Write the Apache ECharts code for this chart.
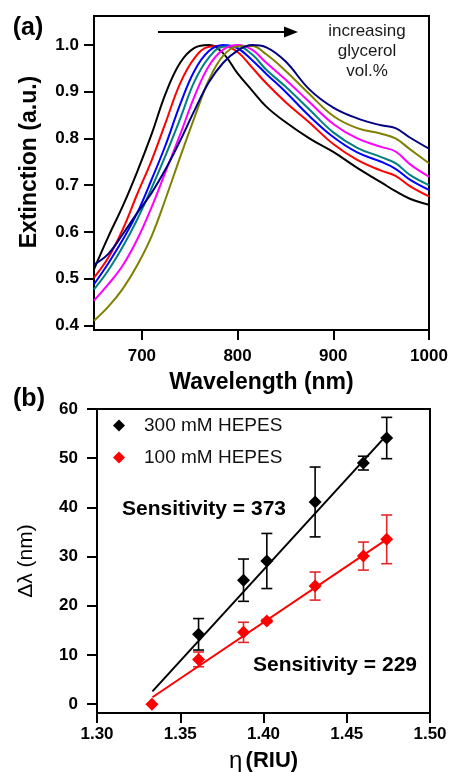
<!DOCTYPE html>
<html>
<head>
<meta charset="utf-8">
<script src="https://cdn.jsdelivr.net/npm/echarts@6/dist/echarts.min.js"></script>
<style>
  html, body { margin: 0; padding: 0; background: #fff; }
  #chart { width: 449px; height: 772px; }
</style>
</head>
<body>
<div id="chart"></div>
<script>
// (a) espectros de extinción normalizados
const wavelength = [650, 665, 680, 695, 710, 725, 740, 755, 770, 785, 800, 815, 830, 850, 875, 900, 925, 950, 965, 980, 1000];
const extBlack   = [0.52, 0.59, 0.655, 0.728, 0.808, 0.897, 0.962, 0.994, 1.0, 0.982, 0.939, 0.903, 0.868, 0.835, 0.80, 0.771, 0.737, 0.706, 0.687, 0.671, 0.658];
const extRed     = [0.502, 0.545, 0.605, 0.68, 0.752, 0.835, 0.918, 0.972, 0.996, 0.998, 0.985, 0.952, 0.918, 0.878, 0.834, 0.788, 0.754, 0.731, 0.72, 0.698, 0.676];
const extBlue    = [0.488, 0.533, 0.583, 0.64, 0.711, 0.787, 0.873, 0.945, 0.987, 1.0, 0.993, 0.968, 0.938, 0.90, 0.848, 0.803, 0.77, 0.75, 0.735, 0.712, 0.69];
const extTeal    = [0.477, 0.518, 0.568, 0.626, 0.693, 0.765, 0.842, 0.922, 0.973, 0.996, 0.997, 0.98, 0.947, 0.911, 0.862, 0.813, 0.78, 0.76, 0.747, 0.722, 0.70];
const extMagenta = [0.453, 0.488, 0.528, 0.583, 0.652, 0.73, 0.808, 0.89, 0.955, 0.99, 1.0, 0.99, 0.962, 0.926, 0.878, 0.831, 0.80, 0.782, 0.772, 0.745, 0.718];
const extOlive   = [0.41, 0.44, 0.478, 0.528, 0.59, 0.672, 0.76, 0.845, 0.925, 0.977, 0.997, 0.998, 0.98, 0.945, 0.895, 0.848, 0.822, 0.81, 0.80, 0.777, 0.747];
const extNavy    = [0.53, 0.553, 0.595, 0.64, 0.683, 0.735, 0.795, 0.86, 0.92, 0.962, 0.988, 1.0, 0.995, 0.965, 0.905, 0.866, 0.843, 0.828, 0.822, 0.802, 0.778];
const wlTicks = [700, 800, 900, 1000];
const extTicks = [0.4, 0.5, 0.6, 0.7, 0.8, 0.9, 1.0];

// (b) desplazamiento vs índice de refracción
const riu300 = [1.361, 1.388, 1.402, 1.431, 1.460, 1.474];
const shift300 = [14.2, 25.2, 29.1, 41.1, 49.0, 54.1];
const err300 = [3.2, 4.3, 5.6, 7.1, 1.4, 4.2];
const riu100 = [1.333, 1.361, 1.388, 1.402, 1.431, 1.460, 1.474];
const shift100 = [0, 9.1, 14.6, 16.9, 24.0, 30.1, 33.5];
const err100 = [0, 1.5, 2.05, 0.3, 2.85, 2.85, 4.95];
const fitRiu = [1.3333, 1.474];
const fit300 = [2.6, 54.7];
const fit100 = [1.4, 33.5];
const shiftTicks = [0, 10, 20, 30, 40, 50, 60];

const FONT = "'Liberation Sans', Arial, sans-serif";
const pairs = (xs, ys) => xs.map((x, i) => [x, ys[i]]);

const spectra = [
    ['#000000', extBlack],
    ['#ff0000', extRed],
    ['#0000ff', extBlue],
    ['#008080', extTeal],
    ['#ff00ff', extMagenta],
    ['#808000', extOlive],
    ['#000080', extNavy]
];

function errorBars(color) {
    return function (params, api) {
        const x = api.value(0);
        const top = api.coord([x, api.value(2)]);
        const bot = api.coord([x, api.value(1)]);
        const w = 5.5;
        const style = { stroke: color, lineWidth: 1.6 };
        return {
            type: 'group',
            children: [
                { type: 'line', shape: { x1: top[0], y1: top[1], x2: bot[0], y2: bot[1] }, style: style },
                { type: 'line', shape: { x1: top[0] - w, y1: top[1], x2: top[0] + w, y2: top[1] }, style: style },
                { type: 'line', shape: { x1: bot[0] - w, y1: bot[1], x2: bot[0] + w, y2: bot[1] }, style: style }
            ]
        };
    };
}

const axisLine = { show: true, onZero: false, lineStyle: { color: '#000', width: 2 } };
const tickStyle = { lineStyle: { color: '#000', width: 2 } };
const labelStyle = { color: '#000', fontSize: 17, fontWeight: 'bold', fontFamily: FONT };

const series = [];
spectra.forEach(([color, values]) => {
    series.push({
        type: 'line',
        xAxisIndex: 0,
        yAxisIndex: 0,
        data: pairs(wavelength, values),
        showSymbol: false,
        smooth: 0.4,
        lineStyle: { color: color, width: 2 },
        silent: true
    });
});

series.push(
    {
        type: 'line', xAxisIndex: 1, yAxisIndex: 1,
        data: pairs(fitRiu, fit300), showSymbol: false,
        lineStyle: { color: '#000', width: 2 }
    },
    {
        type: 'line', xAxisIndex: 1, yAxisIndex: 1,
        data: pairs(fitRiu, fit100), showSymbol: false,
        lineStyle: { color: '#ff0000', width: 2 }
    },
    {
        type: 'custom', xAxisIndex: 1, yAxisIndex: 1,
        renderItem: errorBars('#000'),
        data: riu300.map((x, i) => [x, shift300[i] - err300[i], shift300[i] + err300[i]])
    },
    {
        type: 'custom', xAxisIndex: 1, yAxisIndex: 1,
        renderItem: errorBars('#e02828'),
        data: riu100.map((x, i) => [x, shift100[i] - err100[i], shift100[i] + err100[i]])
    },
    {
        name: '300 mM HEPES', type: 'scatter', xAxisIndex: 1, yAxisIndex: 1,
        data: pairs(riu300, shift300), symbol: 'diamond', symbolSize: 13,
        itemStyle: { color: '#000', opacity: 1 }, z: 5
    },
    {
        name: '100 mM HEPES', type: 'scatter', xAxisIndex: 1, yAxisIndex: 1,
        data: pairs(riu100, shift100), symbol: 'diamond', symbolSize: 13,
        itemStyle: { color: '#ff0000', opacity: 1 }, z: 5
    }
);

const chart = echarts.init(document.getElementById('chart'));
chart.setOption({
    backgroundColor: '#fff',
    animation: false,
    textStyle: { fontFamily: FONT },
    grid: [
        { left: 94, top: 16, width: 335, height: 314, show: true, borderColor: '#000', borderWidth: 2, containLabel: false, outerBoundsMode: 'none' },
        { left: 97, top: 409, width: 333, height: 304, show: true, borderColor: '#000', borderWidth: 2, containLabel: false, outerBoundsMode: 'none' }
    ],
    legend: {
        data: [
            { name: '300 mM HEPES', icon: 'diamond', itemStyle: { opacity: 1 } },
            { name: '100 mM HEPES', icon: 'diamond', itemStyle: { opacity: 1 } }
        ],
        orient: 'vertical',
        left: 108,
        top: 411,
        itemWidth: 12,
        itemHeight: 12,
        itemGap: 13,
        selectedMode: false,
        textStyle: { color: '#111', fontSize: 19, fontFamily: FONT, padding: [0, 0, 0, 14] }
    },
    xAxis: [
        {
            gridIndex: 0, type: 'value', min: 650, max: 1000,
            axisLine: axisLine,
            axisTick: Object.assign({ customValues: wlTicks, length: 10 }, tickStyle),
            axisLabel: Object.assign({ customValues: wlTicks, margin: 18, formatter: v => String(v) }, labelStyle),
            splitLine: { show: false },
            name: 'Wavelength (nm)', nameLocation: 'middle', nameGap: 41,
            nameTextStyle: { color: '#000', fontSize: 23, fontWeight: 'bold', fontFamily: FONT }
        },
        {
            gridIndex: 1, type: 'value', min: 1.3, max: 1.5, interval: 0.05,
            axisLine: axisLine,
            axisTick: Object.assign({ length: 10 }, tickStyle),
            axisLabel: Object.assign({ margin: 13, formatter: v => v.toFixed(2) }, labelStyle),
            splitLine: { show: false },
            name: '{g|η} {b|(RIU)}', nameLocation: 'middle', nameGap: 36,
            nameTextStyle: {
                color: '#000',
                rich: {
                    g: { fontSize: 24, fontFamily: FONT, color: '#000' },
                    b: { fontSize: 22, fontWeight: 'bold', fontFamily: FONT, color: '#000' }
                }
            }
        }
    ],
    yAxis: [
        {
            gridIndex: 0, type: 'value', min: 0.39, max: 1.062,
            axisLine: axisLine,
            axisTick: Object.assign({ customValues: extTicks, length: 10 }, tickStyle),
            axisLabel: Object.assign({ customValues: extTicks, margin: 15, formatter: v => v.toFixed(1) }, labelStyle),
            splitLine: { show: false }
        },
        {
            gridIndex: 1, type: 'value', min: -1.8, max: 60,
            axisLine: axisLine,
            axisTick: Object.assign({ customValues: shiftTicks, length: 10 }, tickStyle),
            axisLabel: Object.assign({ customValues: shiftTicks, margin: 19 }, labelStyle),
            splitLine: { show: false },
            name: 'Δλ (nm)', nameLocation: 'middle', nameGap: 60, nameRotate: 90,
            nameTextStyle: { color: '#000', fontSize: 21, fontFamily: FONT }
        }
    ],
    graphic: [
        {
            type: 'text', x: 30, y: 162, rotation: Math.PI / 2,
            style: { text: 'Extinction (a.u.)', fill: '#000', font: 'bold 23px ' + FONT, align: 'center', verticalAlign: 'middle' }
        },
        { type: 'text', x: 28, y: 28, style: { text: '(a)', fill: '#000', font: 'bold 25px ' + FONT, align: 'center', verticalAlign: 'middle' } },
        { type: 'text', x: 29, y: 399, style: { text: '(b)', fill: '#000', font: 'bold 25px ' + FONT, align: 'center', verticalAlign: 'middle' } },
        { type: 'line', shape: { x1: 158, y1: 32, x2: 287, y2: 32 }, style: { stroke: '#000', lineWidth: 2 } },
        { type: 'polygon', shape: { points: [[284, 26.5], [298, 32], [284, 37.5]] }, style: { fill: '#000' } },
        {
            type: 'text', x: 367, y: 51,
            style: { text: 'increasing\nglycerol\nvol.%', fill: '#1a1a1a', font: '17px ' + FONT, align: 'center', verticalAlign: 'middle', lineHeight: 20 }
        },
        { type: 'text', x: 204, y: 509, style: { text: 'Sensitivity = 373', fill: '#000', font: 'bold 21px ' + FONT, align: 'center', verticalAlign: 'middle' } },
        { type: 'text', x: 335, y: 665, style: { text: 'Sensitivity = 229', fill: '#000', font: 'bold 21px ' + FONT, align: 'center', verticalAlign: 'middle' } }
    ],
    series: series
});
</script>
</body>
</html>
